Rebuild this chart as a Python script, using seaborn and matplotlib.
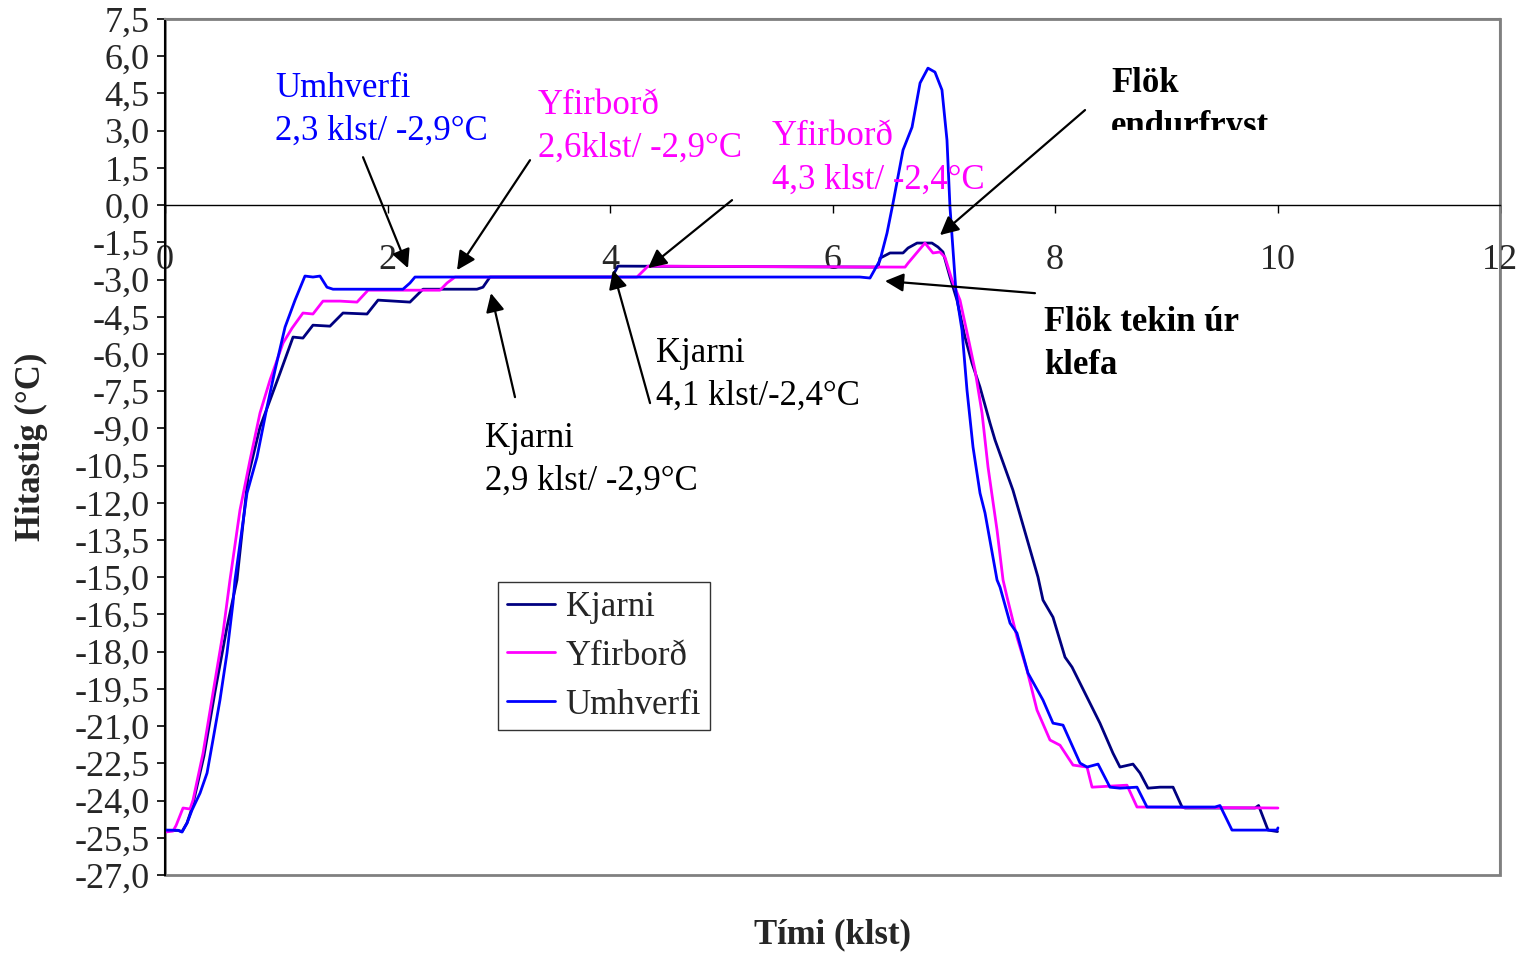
import numpy as np
import pandas as pd
import seaborn as sns
import matplotlib
matplotlib.use("Agg")
import matplotlib.pyplot as plt
from matplotlib.patches import Rectangle
from matplotlib.lines import Line2D

# ---------------- data ----------------
series_names = ["Kjarni", "Yfirborð", "Umhverfi"]
series_colors = ["#000080", "#FF00FF", "#0000FF"]

kjarni_t = [0.0, 0.117, 0.153, 0.198, 0.243, 0.35, 0.45, 0.557, 0.647, 0.746, 0.854, 0.944,
            1.034, 1.151, 1.240, 1.330, 1.483, 1.600, 1.816, 1.915, 2.202, 2.319, 2.804, 2.858,
            2.921, 4.018, 4.072, 6.409, 6.427, 6.517, 6.634, 6.679, 6.760, 6.894, 6.948, 6.993,
            7.056, 7.119, 7.191, 7.254, 7.326, 7.416, 7.461, 7.622, 7.847, 7.892, 7.982, 8.090,
            8.153, 8.404, 8.521, 8.584, 8.701, 8.764, 8.836, 8.944, 9.061, 9.142, 9.169, 9.798,
            9.83, 9.915, 10.0]
kjarni_v = [-25.20, -25.20, -25.25, -24.90, -24.30, -22.20, -19.60, -17.01, -15.11, -10.96, -8.95, -7.86,
            -6.77, -5.32, -5.36, -4.84, -4.88, -4.35, -4.39, -3.83, -3.91, -3.39, -3.39, -3.31,
            -2.90, -2.90, -2.46, -2.50, -2.14, -1.93, -1.93, -1.73, -1.53, -1.53, -1.69, -1.89,
            -2.90, -3.83, -5.32, -6.37, -7.34, -8.79, -9.47, -11.49, -14.99, -15.92, -16.61, -18.22,
            -18.62, -20.88, -22.09, -22.65, -22.53, -22.89, -23.50, -23.46, -23.46, -24.26, -24.30, -24.30,
            -24.20, -25.19, -25.25]

yfirbord_t = [0.0, 0.072, 0.10, 0.162, 0.225, 0.252, 0.342, 0.431, 0.521, 0.584, 0.674, 0.764,
              0.854, 0.944, 1.061, 1.142, 1.240, 1.330, 1.420, 1.573, 1.726, 1.825, 2.472, 2.535,
              2.607, 4.243, 4.342, 6.652, 6.679, 6.831, 6.903, 6.966, 7.011, 7.074, 7.146, 7.218,
              7.281, 7.344, 7.398, 7.479, 7.533, 7.569, 7.658, 7.748, 7.838, 7.955, 8.045, 8.162,
              8.288, 8.333, 8.647, 8.737, 10.004]
yfirbord_v = [-25.27, -25.23, -25.00, -24.30, -24.34, -23.98, -22.09, -19.67, -17.25, -15.11, -12.29, -10.28,
              -8.38, -7.05, -5.56, -4.96, -4.35, -4.39, -3.87, -3.87, -3.91, -3.43, -3.43, -3.14,
              -2.90, -2.90, -2.46, -2.50, -2.34, -1.53, -1.93, -1.89, -2.10, -3.02, -3.83, -5.32,
              -6.65, -8.38, -10.56, -13.10, -15.11, -15.80, -17.41, -18.74, -20.35, -21.56, -21.77, -22.57,
              -22.65, -23.46, -23.38, -24.26, -24.30]

umhverfi_t = [0.0, 0.117, 0.153, 0.198, 0.243, 0.315, 0.378, 0.431, 0.494, 0.557, 0.611, 0.629,
              0.737, 0.827, 0.917, 0.989, 1.079, 1.169, 1.258, 1.330, 1.393, 1.456, 1.510, 2.139,
              2.202, 2.247, 6.247, 6.337, 6.427, 6.490, 6.544, 6.634, 6.715, 6.787, 6.858, 6.921,
              6.984, 7.029, 7.056, 7.110, 7.164, 7.209, 7.263, 7.326, 7.371, 7.479, 7.506, 7.596,
              7.658, 7.757, 7.892, 7.982, 8.072, 8.225, 8.288, 8.387, 8.494, 8.584, 8.737, 8.827,
              9.438, 9.483, 9.591, 9.996, 10.004]
umhverfi_v = [-25.19, -25.20, -25.27, -24.91, -24.38, -23.70, -22.89, -21.56, -19.95, -18.06, -16.04, -15.11,
              -11.61, -10.16, -8.14, -6.65, -4.92, -3.83, -2.86, -2.90, -2.86, -3.31, -3.39, -3.39,
              -3.14, -2.90, -2.90, -2.94, -2.22, -1.13, 0.08, 2.22, 3.14, 4.92, 5.52, 5.36,
              4.64, 2.62, -0.08, -3.50, -5.04, -7.46, -9.75, -11.61, -12.41, -15.11, -15.40, -16.85,
              -17.25, -18.86, -19.95, -20.88, -20.96, -22.49, -22.65, -22.53, -23.46, -23.50, -23.46, -24.26,
              -24.26, -24.20, -25.19, -25.19, -25.10]

y_ticks = [7.5 - 1.5 * i for i in range(24)]
x_ticks = [0, 2, 4, 6, 8, 10, 12]
x_label = "Tími (klst)"
y_label = "Hitastig (°C)"

# ---------------- build long-form table ----------------
frames = []
for name, t, v in [("Kjarni", kjarni_t, kjarni_v),
                   ("Yfirborð", yfirbord_t, yfirbord_v),
                   ("Umhverfi", umhverfi_t, umhverfi_v)]:
    frames.append(pd.DataFrame({"t": t, "v": v, "series": name}))
df = pd.concat(frames, ignore_index=True)

# ---------------- style ----------------
sns.set_style("white")
plt.rcParams["font.family"] = ["Liberation Serif", "DejaVu Serif"]
FS = 25
TFS = 26

fig = plt.figure(figsize=(15.21, 9.55), dpi=100)
ax = fig.add_axes([165 / 1521, 1 - 875 / 955, (1500 - 165) / 1521, (875 - 19) / 955])

sns.lineplot(data=df, x="t", y="v", hue="series", hue_order=series_names,
             palette=dict(zip(series_names, series_colors)), sort=False,
             estimator=None, linewidth=2.0, ax=ax, legend=False)

ax.set_xlim(0, 12)
ax.set_ylim(-27, 7.5)

ax.spines["bottom"].set_position(("data", 0))
ax.spines["bottom"].set_color("black")
ax.spines["bottom"].set_linewidth(1.0)
ax.spines["left"].set_color("black")
ax.spines["left"].set_linewidth(1.5)
for s in ["top", "right"]:
    ax.spines[s].set_color("#808080")
    ax.spines[s].set_linewidth(1.5)
ax.add_patch(Rectangle((0, 0), 1, 1, transform=ax.transAxes, fill=False,
                       edgecolor="#808080", linewidth=2.0, clip_on=False, zorder=0))

ax.set_yticks(y_ticks)
ax.set_yticklabels([f"{v:.1f}".replace(".", ",") for v in y_ticks])
ax.set_xticks(x_ticks)
ax.set_xticklabels([str(v) for v in x_ticks])
ax.tick_params(axis="y", direction="out", length=6, width=1.2, color="black", pad=5,
               left=True, labelsize=TFS)
ax.tick_params(axis="x", direction="out", length=6, width=1.0, color="black", pad=22,
               bottom=True, labelsize=TFS)

ax.set_xlabel("")
ax.set_ylabel("")
fig.text(833 / 1521, 1 - 935 / 955, x_label, fontsize=FS, fontweight="bold",
         ha="center", va="center")
fig.text(31 / 1521, 1 - 447 / 955, y_label, fontsize=FS, fontweight="bold",
         ha="center", va="center", rotation=90)

# legend
handles = [Line2D([0], [0], color=c, lw=2.0) for c in series_colors]
leg = ax.legend(handles, series_names, loc="upper left",
                bbox_to_anchor=((498 - 165) / 1335, (875 - 582) / 856),
                borderaxespad=0, fontsize=FS, frameon=True, fancybox=False,
                handlelength=1.4, handletextpad=0.3, labelspacing=0.46, borderpad=0.25)
leg.get_frame().set_edgecolor("black")
leg.get_frame().set_linewidth(1.0)

# annotations
arrow = dict(arrowstyle="-|>", mutation_scale=28, lw=1.6, color="black", shrinkA=0, shrinkB=0)
arrows = [((2.184, -2.54), (1.780, 1.93)),
          ((2.625, -2.62), (3.281, 1.81)),
          ((4.342, -2.54), (5.097, 0.20)),
          ((6.966, -1.21), (8.270, 3.83)),
          ((6.472, -3.06), (7.820, -3.55)),
          ((4.027, -2.62), (4.360, -7.98)),
          ((2.930, -3.55), (3.146, -7.74))]
for tip, tail in arrows:
    ax.annotate("", xy=tip, xytext=tail, arrowprops=arrow, annotation_clip=False)

LS = 1.40
texts = [(0.989, 3.85, "Umhverfi\n2,3 klst/ -2,9°C", "#0000FF", "normal"),
         (3.353, 3.16, "Yfirborð\n2,6klst/ -2,9°C", "#FF00FF", "normal"),
         (5.456, 1.88, "Yfirborð\n4,3 klst/ -2,4°C", "#FF00FF", "normal"),
         (7.901, -5.58, "Flök tekin úr\nklefa", "black", "bold"),
         (4.413, -6.83, "Kjarni\n4,1 klst/-2,4°C", "black", "normal"),
         (2.876, -10.26, "Kjarni\n2,9 klst/ -2,9°C", "black", "normal"),
         (8.503, 4.05, "Flök\nendurfryst", "black", "bold")]
for x, y, s, c, w in texts:
    ax.text(x, y, s, color=c, fontsize=FS, fontweight=w, ha="left", va="center",
            linespacing=LS)

# the reference cuts off the lower part of "endurfryst"
fig.patches.append(Rectangle((1100 / 1521, 1 - 150 / 955), 180 / 1521, 20 / 955,
                             transform=fig.transFigure, facecolor="white",
                             edgecolor="none", zorder=10))

fig.savefig("out.png", dpi=100)
